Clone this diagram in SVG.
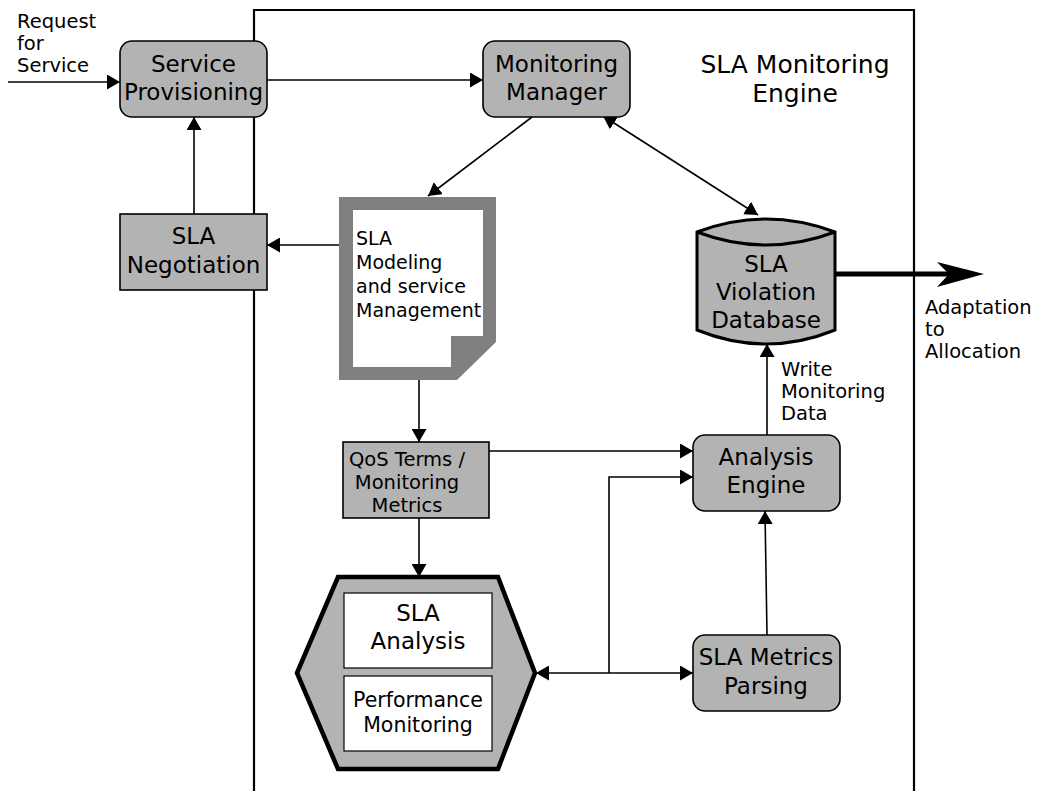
<svg xmlns="http://www.w3.org/2000/svg" width="1048" height="791" viewBox="0 0 1048 791">
  <defs>
    <style>
      text { font-family: "DejaVu Sans", "Liberation Sans", sans-serif; fill: #000; }
      .lbl { font-size: 19.5px; }
      .node { font-size: 23px; text-anchor: middle; }
      .rbox { fill: #b3b3b3; stroke: #000; stroke-width: 1.6; }
      .conn { fill: none; stroke: #000; stroke-width: 1.6; }
    </style>
    <marker id="arrow" markerUnits="userSpaceOnUse" markerWidth="14" markerHeight="15" refX="13" refY="7.5" orient="auto-start-reverse">
      <path d="M0,0 L13,7.5 L0,15 z" fill="#000"/>
    </marker>
  </defs>

  <rect width="1048" height="791" fill="#fff"/>

  <!-- engine boundary, open at the bottom -->
  <path d="M254,791 V10 H914 V791" fill="none" stroke="#000" stroke-width="2.2"/>
  <text class="node" style="font-size:25px" x="795" y="73">SLA Monitoring</text>
  <text class="node" style="font-size:25px" x="795" y="102">Engine</text>

  <!-- connectors -->
  <g id="connectors">
    <line class="conn" x1="8" y1="82" x2="120" y2="82" marker-end="url(#arrow)"/>
    <line class="conn" x1="267" y1="80" x2="483" y2="80" marker-end="url(#arrow)"/>
    <line class="conn" x1="194" y1="214" x2="194" y2="117" marker-end="url(#arrow)"/>
    <line class="conn" x1="339" y1="245" x2="267" y2="245" marker-end="url(#arrow)"/>
    <line class="conn" x1="532" y1="117" x2="428" y2="196" marker-end="url(#arrow)"/>
    <line class="conn" x1="603" y1="116" x2="758" y2="215" marker-start="url(#arrow)" marker-end="url(#arrow)"/>
    <line class="conn" x1="419" y1="380" x2="419" y2="442" marker-end="url(#arrow)"/>
    <line class="conn" x1="419" y1="518" x2="419" y2="577" marker-end="url(#arrow)"/>
    <line class="conn" x1="489" y1="451" x2="693" y2="451" marker-end="url(#arrow)"/>
    <polyline class="conn" points="609,673 609,477 693,477" marker-end="url(#arrow)"/>
    <line class="conn" x1="536" y1="673" x2="693" y2="673" marker-start="url(#arrow)" marker-end="url(#arrow)"/>
    <line class="conn" x1="767" y1="635" x2="765" y2="511" marker-end="url(#arrow)"/>
    <line class="conn" x1="767" y1="435" x2="767" y2="344" marker-end="url(#arrow)"/>
    <!-- bold output arrow -->
    <line x1="835" y1="274" x2="950" y2="274" stroke="#000" stroke-width="5"/>
    <polygon points="937,262 984,274 937,287 949,274" fill="#000"/>
  </g>

  <!-- free labels -->
  <text class="lbl" x="17" y="28">Request</text>
  <text class="lbl" x="17" y="50">for</text>
  <text class="lbl" x="17" y="72">Service</text>
  <text class="lbl" x="925" y="314">Adaptation</text>
  <text class="lbl" x="925" y="336">to</text>
  <text class="lbl" x="925" y="358">Allocation</text>
  <text class="lbl" x="781" y="376">Write</text>
  <text class="lbl" x="781" y="398">Monitoring</text>
  <text class="lbl" x="781" y="420">Data</text>

  <g id="service-provisioning">
    <rect class="rbox" x="120" y="41" width="147" height="76" rx="12"/>
    <text class="node" x="193.5" y="72">Service</text>
    <text class="node" x="193.5" y="100">Provisioning</text>
  </g>

  <g id="sla-negotiation">
    <rect class="rbox" x="120" y="214" width="147" height="76"/>
    <text class="node" x="193.5" y="244">SLA</text>
    <text class="node" x="193.5" y="273">Negotiation</text>
  </g>

  <g id="monitoring-manager">
    <rect class="rbox" x="483" y="41" width="147" height="76" rx="12"/>
    <text class="node" x="556.5" y="72">Monitoring</text>
    <text class="node" x="556.5" y="100">Manager</text>
  </g>

  <g id="sla-modeling">
    <polygon points="339,197 496,197 496,342 457,380 339,380" fill="#808080"/>
    <polygon points="353,210 483,210 483,336 451,336 451,367 353,367" fill="#fff"/>
    <text x="356" y="245" style="font-size:19px">SLA</text>
    <text x="356" y="269" style="font-size:19px">Modeling</text>
    <text x="356" y="293" style="font-size:19px">and service</text>
    <text x="356" y="317" style="font-size:19px">Management</text>
  </g>

  <g id="sla-violation-database">
    <path d="M697,232 Q766,206 835,232 V330 Q766,358 697,330 Z" fill="#b3b3b3" stroke="#000" stroke-width="3"/>
    <path d="M697,232 Q766,258 835,232" fill="none" stroke="#000" stroke-width="3"/>
    <text class="node" x="766" y="272">SLA</text>
    <text class="node" x="766" y="300">Violation</text>
    <text class="node" x="766" y="328">Database</text>
  </g>

  <g id="qos-terms">
    <rect class="rbox" x="343" y="442" width="146" height="76"/>
    <text class="lbl" text-anchor="middle" x="407" y="466">QoS Terms /</text>
    <text class="lbl" text-anchor="middle" x="407" y="489">Monitoring</text>
    <text class="lbl" text-anchor="middle" x="407" y="512">Metrics</text>
  </g>

  <g id="analysis-engine">
    <rect class="rbox" x="693" y="435" width="147" height="76" rx="12"/>
    <text class="node" x="766" y="465">Analysis</text>
    <text class="node" x="766" y="493">Engine</text>
  </g>

  <g id="sla-metrics-parsing">
    <rect class="rbox" x="693" y="635" width="147" height="76" rx="12"/>
    <text class="node" x="766" y="665">SLA Metrics</text>
    <text class="node" x="766" y="694">Parsing</text>
  </g>

  <g id="monitoring-unit">
    <polygon points="297,673 338,577 498,577 535,673 498,769 338,769" fill="#b3b3b3" stroke="#000" stroke-width="4.5" stroke-linejoin="miter"/>
    <rect x="344" y="593" width="148" height="75" fill="#fff" stroke="#000" stroke-width="1.2"/>
    <rect x="344" y="676" width="148" height="75" fill="#fff" stroke="#000" stroke-width="1.2"/>
    <text class="node" x="418" y="621">SLA</text>
    <text class="node" x="418" y="649">Analysis</text>
    <text class="node" style="font-size:20.5px" x="418" y="707">Performance</text>
    <text class="node" style="font-size:20.5px" x="418" y="732">Monitoring</text>
  </g>
</svg>
